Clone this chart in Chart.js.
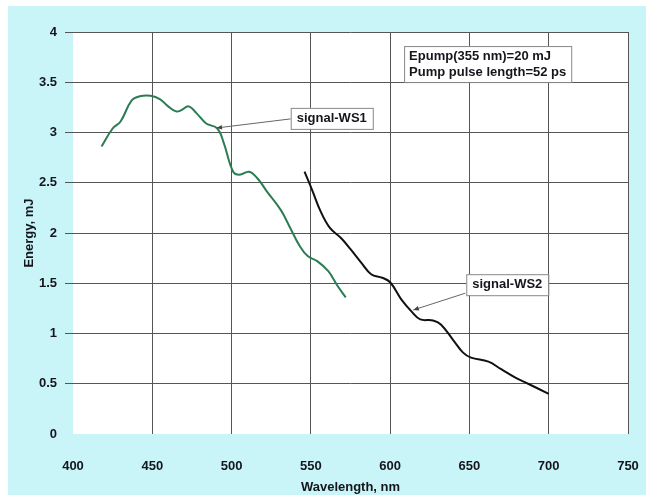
<!DOCTYPE html>
<html>
<head>
<meta charset="utf-8">
<script src="https://cdn.jsdelivr.net/npm/chart.js@4"></script>
<style>
  html, body { margin: 0; padding: 0; background: #fff; }
  #wrap { width: 646px; height: 495px; }
</style>
</head>
<body>
<div id="wrap"><canvas id="chart" width="646" height="495"></canvas></div>
<script>
// signal-WS1 (green)
const ws1X = [418, 425, 430, 437, 442, 449, 455, 460, 465, 468, 473, 478, 484, 491, 495, 501, 505, 511, 516, 522, 531, 537, 543, 548, 554, 561, 567, 572];
const ws1Y = [2.86, 3.04, 3.11, 3.32, 3.36, 3.365, 3.33, 3.26, 3.21, 3.22, 3.26, 3.19, 3.09, 3.04, 2.90, 2.61, 2.58, 2.61, 2.55, 2.42, 2.23, 2.05, 1.87, 1.77, 1.72, 1.62, 1.47, 1.36];

// signal-WS2 (black)
const ws2X = [546, 551, 556, 562, 569, 575, 582, 588, 595, 600, 607, 614, 619, 627, 632, 640, 646, 651, 662, 670, 679, 687, 700];
const ws2Y = [2.61, 2.42, 2.22, 2.05, 1.95, 1.84, 1.70, 1.59, 1.555, 1.51, 1.34, 1.21, 1.14, 1.13, 1.09, 0.93, 0.81, 0.76, 0.72, 0.645, 0.56, 0.50, 0.40];

const xTicks = [400, 450, 500, 550, 600, 650, 700, 750];
const yTicks = [0, 0.5, 1, 1.5, 2, 2.5, 3, 3.5, 4];

const infoLines = ['Epump(355 nm)=20 mJ', 'Pump pulse length=52 ps'];

const toPoints = (xs, ys) => xs.map((x, i) => ({ x, y: ys[i] }));

const BG = '#c9f5f8';
const GRID = '#555';
const TEXT = '#15151c';
const FONT = '"Liberation Sans", Arial, sans-serif';

// background + white plot area
const backdrop = {
  id: 'backdrop',
  beforeDraw(chart) {
    const { ctx, chartArea: a } = chart;
    ctx.save();
    ctx.fillStyle = '#fff';
    ctx.fillRect(0, 0, chart.width, chart.height);
    ctx.fillStyle = BG;
    ctx.fillRect(8, 6, chart.width - 8, chart.height - 6);
    ctx.fillStyle = '#fff';
    ctx.fillRect(a.left, a.top, a.right - a.left, a.bottom - a.top);
    ctx.restore();
  }
};

function textBox(ctx, x, y, lines, padX, lineH) {
  ctx.font = 'bold 13px ' + FONT;
  const w = Math.max(...lines.map(l => ctx.measureText(l).width)) + padX * 2;
  const h = lines.length * lineH + 4;
  ctx.fillStyle = '#fff';
  ctx.fillRect(x, y, w, h);
  ctx.strokeStyle = '#888';
  ctx.lineWidth = 1;
  ctx.strokeRect(x + 0.5, y + 0.5, w, h);
  ctx.fillStyle = TEXT;
  ctx.textBaseline = 'middle';
  ctx.textAlign = 'left';
  lines.forEach((l, i) => ctx.fillText(l, x + padX, y + 2 + lineH * (i + 0.5)));
  return { w, h };
}

function arrow(ctx, x1, y1, x2, y2) {
  ctx.strokeStyle = '#666';
  ctx.fillStyle = '#444';
  ctx.lineWidth = 1;
  ctx.beginPath();
  ctx.moveTo(x1, y1);
  ctx.lineTo(x2, y2);
  ctx.stroke();
  const ang = Math.atan2(y2 - y1, x2 - x1);
  const len = 6;
  ctx.beginPath();
  ctx.moveTo(x2, y2);
  ctx.lineTo(x2 - len * Math.cos(ang - 0.4), y2 - len * Math.sin(ang - 0.4));
  ctx.lineTo(x2 - len * Math.cos(ang + 0.4), y2 - len * Math.sin(ang + 0.4));
  ctx.closePath();
  ctx.fill();
}

const notes = {
  id: 'notes',
  afterDatasetsDraw(chart) {
    const { ctx } = chart;
    const sx = chart.scales.x, sy = chart.scales.y;
    ctx.save();
    // signal-WS1
    const b1x = sx.getPixelForValue(537.3), b1y = sy.getPixelForValue(3.245);
    arrow(ctx, b1x, b1y + 11, sx.getPixelForValue(490.5), sy.getPixelForValue(3.045));
    textBox(ctx, b1x, b1y, ['signal-WS1'], 6, 17);
    // signal-WS2
    const b2x = sx.getPixelForValue(648), b2y = sy.getPixelForValue(1.59);
    arrow(ctx, b2x - 1, b2y + 19, sx.getPixelForValue(614.6), sy.getPixelForValue(1.234));
    textBox(ctx, b2x, b2y, ['signal-WS2'], 6, 17);
    // pump info
    textBox(ctx, sx.getPixelForValue(608.8), sy.getPixelForValue(3.86), infoLines, 5, 16);
    ctx.restore();
  }
};

new Chart(document.getElementById('chart'), {
  type: 'scatter',
  data: {
    datasets: [
      { label: 'signal-WS1', data: toPoints(ws1X, ws1Y), showLine: true, borderColor: '#2a7d52', borderWidth: 2, pointRadius: 0, tension: 0.4 },
      { label: 'signal-WS2', data: toPoints(ws2X, ws2Y), showLine: true, borderColor: '#111', borderWidth: 2, pointRadius: 0, tension: 0.4 }
    ]
  },
  options: {
    responsive: false,
    animation: false,
    layout: { padding: { left: 8, right: 18, top: 32, bottom: 0 } },
    plugins: { legend: { display: false }, tooltip: { enabled: false } },
    scales: {
      x: {
        type: 'linear', min: 400, max: 750,
        afterBuildTicks: s => { s.ticks = xTicks.map(v => ({ value: v })); },
        afterFit: s => { s.height = 61; s.paddingLeft = 0; s.paddingRight = 0; },
        border: { display: false },
        grid: { color: c => c.tick && c.tick.value === 400 ? 'rgba(0,0,0,0)' : GRID, lineWidth: 1, drawTicks: false },
        ticks: { color: TEXT, font: { family: FONT, size: 13, weight: 'bold' }, padding: 25, maxRotation: 0, callback: v => String(v) },
        title: { display: true, text: 'Wavelength, nm', color: TEXT, font: { family: FONT, size: 13, weight: 'bold' }, padding: { top: 0, bottom: 0 } }
      },
      y: {
        type: 'linear', min: 0, max: 4,
        afterBuildTicks: s => { s.ticks = yTicks.map(v => ({ value: v })); },
        afterFit: s => { s.width = 65; },
        border: { display: false },
        grid: { color: c => c.tick && c.tick.value === 0 ? 'rgba(0,0,0,0)' : GRID, lineWidth: 1, tickLength: 8 },
        ticks: { color: TEXT, font: { family: FONT, size: 13, weight: 'bold' }, padding: 8, callback: v => String(v) },
        title: { display: true, text: 'Energy, mJ', color: TEXT, font: { family: FONT, size: 13, weight: 'bold' }, padding: { top: 14, bottom: 0 } }
      }
    }
  },
  plugins: [backdrop, notes]
});
</script>
</body>
</html>
